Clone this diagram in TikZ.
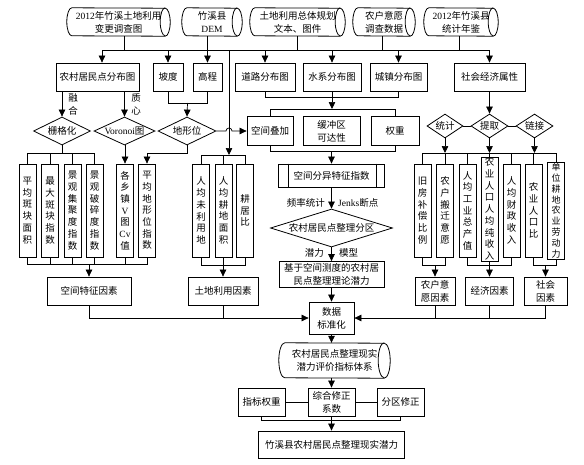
\documentclass[tikz,border=0pt]{standalone}
\usepackage{fontspec}
\setmainfont{Liberation Serif}
\newfontfamily\cjk{Noto Sans CJK SC}
\newfontfamily\ltnf{Liberation Serif}
\newcommand\ltn[1]{{\ltnf #1}}
\usetikzlibrary{arrows.meta,shapes.geometric}
\newcommand\cylout[3]{%
 \draw[line width=0.8pt] ([xshift=#2]#1.north west) arc[start angle=90,end angle=270,x radius=#2,y radius=#3] -- ([xshift=-#2]#1.south east) arc[start angle=-90,end angle=90,x radius=#2,y radius=#3] -- cycle;
 \draw[line width=0.8pt] ([xshift=-#2]#1.north east) arc[start angle=90,end angle=270,x radius=#2,y radius=#3];}
\begin{document}
\begin{tikzpicture}[x=1pt,y=-1pt,
 bx/.style={draw,line width=0.8pt,inner sep=0pt,align=center,font=\cjk\fontsize{9.5}{13}\selectfont},
 vb/.style={bx,minimum width=17pt,minimum height=93pt,font=\cjk\fontsize{9.5}{11.7}\selectfont},
 ln/.style={line width=0.7pt},
 ar/.style={line width=0.7pt,-{Triangle[length=7pt,width=6.5pt]}},
 dm/.style={draw,diamond,line width=0.8pt,inner sep=0pt},
 lb/.style={inner sep=0pt,align=center,font=\cjk\fontsize{9.5}{13}\selectfont},
 cy/.style={inner sep=0pt,align=center,font=\cjk\fontsize{9.5}{13}\selectfont}]
\useasboundingbox (0,0) rectangle (584,464);
% cylinders
\node[cy,minimum width=103pt,minimum height=28pt] (c1) at (118.5,22) {\ltn{2012}年竹溪土地利用\\变更调查图};
\node[cy,minimum width=60pt,minimum height=28pt] (c2) at (212,22) {竹溪县\\\ltn{DEM}};
\node[cy,minimum width=95pt,minimum height=28pt] (c3) at (297.5,22) {土地利用总体规划\\文本、图件};
\node[cy,minimum width=62pt,minimum height=28pt] (c4) at (384,22) {农户意愿\\调查数据};
\node[cy,minimum width=74pt,minimum height=28pt] (c5) at (461,22) {\ltn{2012}年竹溪县\\统计年鉴};
\cylout{c1}{5pt}{14pt}
\cylout{c2}{5pt}{14pt}
\cylout{c3}{5pt}{14pt}
\cylout{c4}{5pt}{14pt}
\cylout{c5}{5pt}{14pt}
% row 2
\node[bx,minimum width=83pt,minimum height=28pt] (r1) at (97.5,77) {农村居民点分布图};
\node[bx,minimum width=30pt,minimum height=28pt] (r2) at (168,77) {坡度};
\node[bx,minimum width=29pt,minimum height=28pt] (r3) at (207.5,77) {高程};
\node[bx,minimum width=60pt,minimum height=28pt] (r4) at (265,77) {道路分布图};
\node[bx,minimum width=58pt,minimum height=28pt] (r5) at (332,77) {水系分布图};
\node[bx,minimum width=57pt,minimum height=28pt] (r6) at (398.5,77) {城镇分布图};
\node[bx,minimum width=71pt,minimum height=28pt] (r7) at (489.5,77) {社会经济属性};
% diamonds
\node[dm,minimum width=57pt,minimum height=28pt,label={[lb]center:栅格化}] (d1) at (62,131) {};
\node[dm,minimum width=61pt,minimum height=28pt,label={[lb]center:{\ltn{Voronoi}图}}] (d2) at (124.5,131) {};
\node[dm,minimum width=58pt,minimum height=28pt,label={[lb]center:地形位}] (d3) at (187,131) {};
\node[dm,minimum width=36pt,minimum height=24pt,label={[lb]center:统计}] (s1) at (445,126) {};
\node[dm,minimum width=37pt,minimum height=24pt,label={[lb]center:提取}] (s2) at (489.5,126) {};
\node[dm,minimum width=37pt,minimum height=24pt,label={[lb]center:链接}] (s3) at (534.5,126) {};
\node[lb] (l1) at (73,104.5) {融\\合};
\node[lb] (l2) at (136,104.5) {质\\心};
% spatial boxes
\node[bx,minimum width=46pt,minimum height=29pt] (sk) at (270,131) {空间叠加};
\node[bx,minimum width=57pt,minimum height=29pt] (hq) at (331.5,131) {缓冲区\\可达性};
\node[bx,minimum width=48pt,minimum height=29pt] (wt) at (395,131) {权重};
\node[bx,minimum width=106pt,minimum height=23pt] (p1) at (331.5,175.5) {空间分异特征指数};
\draw[line width=0.8pt] ([xshift=10pt]p1.north west) -- ([xshift=10pt]p1.south west);
\draw[line width=0.8pt] ([xshift=-9pt]p1.north east) -- ([xshift=-9pt]p1.south east);
\node[dm,minimum width=122pt,minimum height=38pt,label={[lb]center:农村居民点整理分区}] (dz) at (331.5,228) {};
\node[bx,minimum width=105pt,minimum height=26pt] (p2) at (331.5,274.5) {基于空间测度的农村居\\民点整理理论潜力};
\node[lb,anchor=east] (q1) at (325,203) {频率统计};
\node[lb,anchor=west] (q2) at (338,203) {\ltn{Jenks}断点};
\node[lb,anchor=east] (q3) at (324,252.5) {潜力};
\node[lb,anchor=west] (q4) at (339,252.5) {模型};
% vertical boxes
\node[vb] (v1) at (27.5,210.5) {平\\均\\斑\\块\\面\\积};
\node[vb] (v2) at (50,210.5) {最\\大\\斑\\块\\指\\数};
\node[vb] (v3) at (72.5,210.5) {景\\观\\集\\聚\\度\\指\\数};
\node[vb] (v4) at (94.5,210.5) {景\\观\\破\\碎\\度\\指\\数};
\node[vb] (v5) at (125,210.5) {各\\乡\\镇\\\ltn{V}\\图\\\ltn{Cv}\\值};
\node[vb] (v6) at (147,210.5) {平\\均\\地\\形\\位\\指\\数};
\node[vb] (u1) at (201,210.5) {人\\均\\未\\利\\用\\地};
\node[vb] (u2) at (223.5,210.5) {人\\均\\耕\\地\\面\\积};
\node[vb] (u3) at (245,210.5) {耕\\居\\比};
\node[vb] (w1) at (422.5,210.5) {旧\\房\\补\\偿\\比\\例};
\node[vb] (w2) at (445,210.5) {农\\户\\搬\\迁\\意\\愿};
\node[vb] (w3) at (467.5,210.5) {人\\均\\工\\业\\总\\产\\值};
\node[vb,minimum height=104pt] (w4) at (489.5,209) {农\\业\\人\\口\\人\\均\\纯\\收\\入};
\node[vb] (w5) at (511.5,210.5) {人\\均\\财\\政\\收\\入};
\node[vb] (w6) at (533.5,210.5) {农\\业\\人\\口\\比};
\node[vb,minimum height=97pt,font=\cjk\fontsize{9}{10.8}\selectfont] (w7) at (556,210.5) {单\\位\\耕\\地\\农\\业\\劳\\动\\力};
% factor boxes
\node[bx,minimum width=84pt,minimum height=28pt] (f1) at (89,291) {空间特征因素};
\node[bx,minimum width=70pt,minimum height=28pt] (f2) at (223,291) {土地利用因素};
\node[bx,minimum width=40pt,minimum height=28pt] (f3) at (435,291) {农户意\\愿因素};
\node[bx,minimum width=48pt,minimum height=28pt] (f4) at (489.5,291) {经济因素};
\node[bx,minimum width=43pt,minimum height=28pt] (f5) at (545.5,291) {社会\\因素};
% bottom
\node[bx,minimum width=45pt,minimum height=32pt] (ds) at (331.5,318) {数据\\标准化};
\node[cy,minimum width=111pt,minimum height=35pt] (cb) at (334.5,360.5) {农村居民点整理现实\\潜力评价指标体系};
\cylout{cb}{6pt}{17.5pt}
\node[bx,minimum width=47pt,minimum height=28pt] (k1) at (261.5,402) {指标权重};
\node[bx,minimum width=47pt,minimum height=28pt] (k2) at (331.5,402) {综合修正\\系数};
\node[bx,minimum width=47pt,minimum height=28pt] (k3) at (400.5,402) {分区修正};
\node[bx,minimum width=146pt,minimum height=27pt] (fin) at (331.5,444.5) {竹溪县农村居民点整理现实潜力};
% coordinates
\coordinate (tb) at (0,50);
\coordinate (vt) at (229,50);
\coordinate (vb2) at (229,155);
\coordinate (tj) at (187.5,103);
\coordinate (hp) at (226,131);
\coordinate (bj) at (0,97);
\coordinate (bt) at (0,109);
\coordinate (bb) at (0,151);
\coordinate (rb) at (0,153);
\coordinate (rbb) at (0,265);
\coordinate (lbb) at (0,264);
\coordinate (kb) at (0,420);
% top connectors
\draw[ln] ([xshift=4.5pt]r1.north |- tb) -- (r7.north |- tb);
\draw[ln] ([xshift=5.5pt]c1.south) -- ([xshift=5.5pt]c1.south |- tb);
\draw[ln] (c3.south) -- (c3.south |- tb);
\draw[ln] ([xshift=-2pt]c4.south) -- ([xshift=-2pt]c4.south |- tb);
\draw[ln] ([xshift=-2pt]c5.south) -- ([xshift=-2pt]c5.south |- tb);
\draw[ar] (c2.south -| r3.north) -- (r3.north);
\draw[ar] ([xshift=4.5pt]r1.north |- tb) -- ([xshift=4.5pt]r1.north);
\foreach \n in {r2,r4,r5,r6,r7} \draw[ar] (\n.north |- tb) -- (\n.north);
\draw[ar] (vt) -- (vb2);
% row 2 down
\draw[ar] (r1.south -| d1.north) -- (d1.north);
\draw[ar] (r1.south -| d2.north) -- (d2.north);
\draw[ln] (r2.south) -- (r2.south |- tj) -- (r3.south |- tj) -- (r3.south);
\draw[ar] (tj) -- (d3.north);
\draw[ar] (d3.east) -- (hp) arc[start angle=180,end angle=0,radius=3pt] -- (sk.west);
% left group
\draw[ln] (d1.south) -- (d1.south |- rb);
\draw[ln] (v1.north) -- (v1.north |- rb) -- (v4.north |- rb) -- (v4.north);
\draw[ln] (v2.north) -- (v2.north |- rb);
\draw[ln] (v3.north) -- (v3.north |- rb);
\draw[ar] (d2.south -| v5.north) -- (v5.north);
\draw[ar] (d3.south) -- (d3.south |- rb) -- (v6.north |- rb) -- (v6.north);
\draw[ln] (v1.south) -- (v1.south |- lbb) -- (v6.south |- lbb) -- (v6.south);
\foreach \n in {v2,v3,v4,v5} \draw[ln] (\n.south) -- (\n.south |- lbb);
\draw[ar] (f1.north |- lbb) -- (f1.north);
% land use group
\draw[ln] (u1.north) -- (u1.north |- vb2) -- (u3.north |- vb2) -- (u3.north);
\draw[ln] (u2.north) -- (u2.north |- vb2);
\draw[ln] (u1.south) -- (u1.south |- rbb) -- (u3.south |- rbb) -- (u3.south);
\draw[ln] (u2.south) -- (u2.south |- rbb);
\draw[ar] (f2.north |- rbb) -- (f2.north);
% middle column
\draw[ln] (r4.south) -- (r4.south |- bj) -- (r6.south |- bj) -- (r6.south);
\draw[ar] (r5.south) -- (r5.south |- bt);
\draw[ln] (sk.north) -- (sk.north |- bt) -- (wt.north |- bt) -- (wt.north);
\draw[ln] (sk.south) -- (sk.south |- bb) -- (wt.south |- bb) -- (wt.south);
\draw[ar] (p1.north |- bb) -- (p1.north);
\draw[ar] (p1.south) -- (dz.north);
\draw[ar] (dz.south) -- (p2.north);
\draw[ar] (p2.south) -- (ds.north);
% right group
\draw[ar] (r7.south) -- (s2.north);
\draw[ln] (s1.east) -- (s2.west);
\draw[ln] (s2.east) -- (s3.west);
\foreach \n in {s1,s2,s3} \draw[ar] (\n.south) -- (\n.south |- rb);
\draw[ln] (w1.north) -- (w1.north |- rb) -- (w7.north |- rb) -- (w7.north);
\foreach \n in {w2,w3,w4,w5,w6} \draw[ln] (\n.north) -- (\n.north |- rb);
\draw[ln] (w1.south) -- (w1.south |- rbb) -- (w2.south |- rbb) -- (w2.south);
\draw[ar] (f3.north |- rbb) -- (f3.north);
\draw[ln] (w3.south) -- (w3.south |- rbb) -- (w5.south |- rbb) -- (w5.south);
\draw[ln] (w4.south) -- (w4.south |- rbb);
\draw[ar] (f4.north |- rbb) -- (f4.north);
\draw[ln] (w6.south) -- (w6.south |- rbb) -- (w7.south |- rbb) -- (w7.south);
\draw[ar] (f5.north |- rbb) -- (f5.north);
% to data standardisation
\draw[ar] (f1.south) -- (f1.south |- ds.west) -- (ds.west);
\draw[ln] (f2.south) -- (f2.south |- ds.west);
\draw[ar] (f5.south) -- (f5.south |- ds.east) -- (ds.east);
\draw[ln] (f3.south) -- (f3.south |- ds.east);
\draw[ln] (f4.south) -- (f4.south |- ds.east);
\draw[ar] (ds.south) -- (ds.south |- cb.north);
\draw[ar] (k2.north |- cb.south) -- (k2.north);
\draw[ln] (k1.east) -- (k2.west);
\draw[ln] (k2.east) -- (k3.west);
\draw[ln] (k1.south) -- (k1.south |- kb) -- (k3.south |- kb) -- (k3.south);
\draw[ar] (k2.south) -- (fin.north);
\end{tikzpicture}
\end{document}
